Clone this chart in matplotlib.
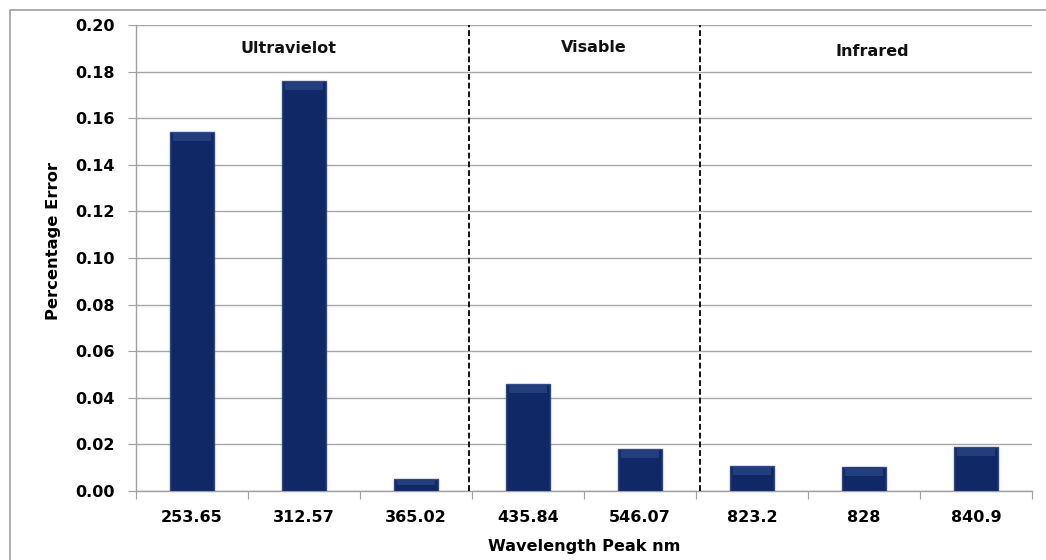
import numpy as np
import matplotlib
matplotlib.use('Agg')
import matplotlib.pyplot as plt
from matplotlib.patches import Rectangle

# data
wavelengths = ['253.65', '312.57', '365.02', '435.84', '546.07', '823.2', '828', '840.9']
pct_error = [0.154, 0.176, 0.005, 0.046, 0.018, 0.0108, 0.0104, 0.0188]
regions = ['Ultravielot', 'Visable', 'Infrared']
region_x = [0.86, 3.59, 6.07]
region_y = [0.1897, 0.1903, 0.1885]
dividers = [2.47, 4.54]

plt.rcParams['font.family'] = ['DejaVu Sans']
plt.rcParams['font.weight'] = 'bold'

fig = plt.figure(figsize=(10.46, 5.6), dpi=100)
ax = fig.add_axes([0.130, 0.1232, 0.8566, 0.8322])

x = np.arange(len(wavelengths))
bw = 0.40
ax.bar(x, pct_error, width=bw, color='#112866', edgecolor='#2f4b8a', linewidth=1.0, zorder=3)
# bevel highlight on top of each bar
bev = [min(0.0035, v * 0.45) for v in pct_error]
ax.bar(x, bev, width=bw * 0.84, bottom=np.array(pct_error) - np.array(bev) - 0.0003,
       color='#223e7e', linewidth=0, zorder=4)

for d in dividers:
    ax.axvline(d, color='#111111', linestyle=(0, (3, 1.5)), linewidth=1.4, zorder=5)

for name, rx, ry in zip(regions, region_x, region_y):
    ax.text(rx, ry, name, ha='center', va='center', fontsize=11.5, fontweight='bold', color='#111111')

ax.set_xlim(-0.5, len(wavelengths) - 0.5)
ax.set_ylim(0, 0.20)
ax.set_yticks(np.arange(0, 0.201, 0.02))
ax.set_yticklabels(['%.2f' % t for t in np.arange(0, 0.201, 0.02)])
ax.grid(axis='y', color='#a6a6a6', linewidth=1.0, zorder=0)

ax.set_xticks(np.arange(-0.5, len(wavelengths)), minor=False)
ax.set_xticklabels([])
ax.set_xticks(x, minor=True)
ax.set_xticklabels(wavelengths, minor=True)
ax.tick_params(axis='x', which='major', length=6, color='#a0a0a0', direction='out')
ax.tick_params(axis='x', which='minor', length=0, pad=14, labelsize=11.5)
ax.tick_params(axis='y', length=6, color='#a0a0a0', pad=9, labelsize=11.5)

for s in ['top', 'right']:
    ax.spines[s].set_visible(False)
for s in ['left', 'bottom']:
    ax.spines[s].set_color('#a0a0a0')
    ax.spines[s].set_linewidth(1.0)

ax.set_xlabel('Wavelength Peak nm', fontsize=11.6, fontweight='bold')
ax.set_ylabel('Percentage Error', fontsize=11.8, fontweight='bold')
ax.xaxis.set_label_coords(0.5, -0.120)
ax.xaxis.label.set_va('center')
ax.yaxis.set_label_coords(-0.0915, 0.536)
ax.yaxis.label.set_va('center')

# outer chart frame (cut off at right and bottom like the reference)
fig.add_artist(Rectangle((10 / 1046, -0.2), 1.2, 1.2 - 10 / 560,
                         transform=fig.transFigure, fill=False,
                         edgecolor='#a0a0a0', linewidth=1.2, clip_on=False))

fig.savefig('out.png', dpi=100)
